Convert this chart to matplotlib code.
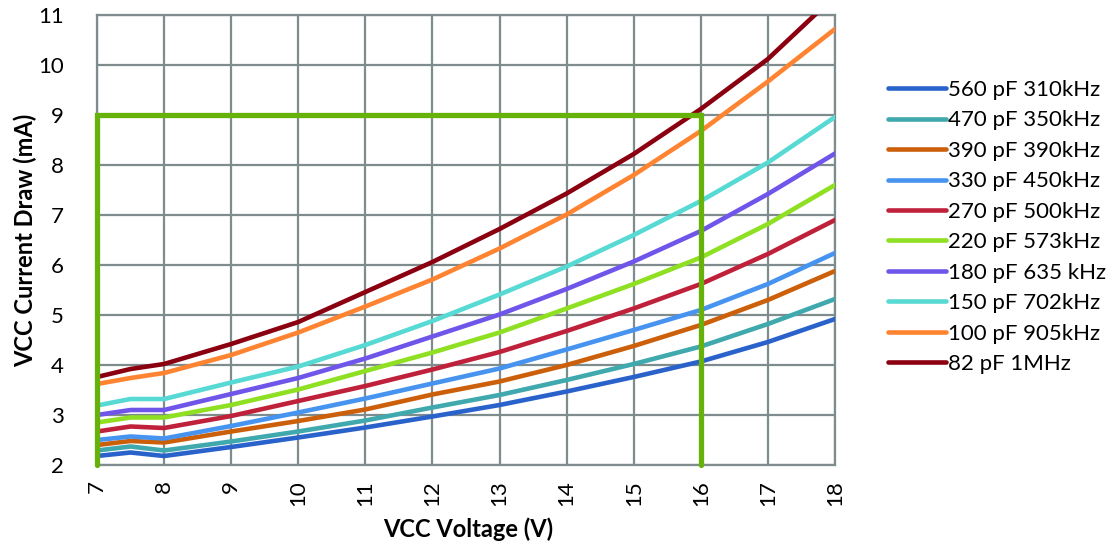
import matplotlib
matplotlib.use("Agg")
import matplotlib.pyplot as plt

voltage = [7, 7.5, 8, 9, 10, 11, 12, 13, 14, 15, 16, 17, 18]

labels = ["560 pF 310kHz", "470 pF 350kHz", "390 pF 390kHz", "330 pF 450kHz",
          "270 pF 500kHz", "220 pF 573kHz", "180 pF 635 kHz", "150 pF 702kHz",
          "100 pF 905kHz", "82 pF 1MHz"]

c560 = [2.18, 2.25, 2.18, 2.36, 2.55, 2.75, 2.97, 3.20, 3.47, 3.76, 4.07, 4.46, 4.92]
c470 = [2.29, 2.37, 2.29, 2.47, 2.67, 2.89, 3.15, 3.40, 3.70, 4.02, 4.37, 4.82, 5.32]
c390 = [2.40, 2.48, 2.45, 2.67, 2.88, 3.11, 3.41, 3.67, 4.00, 4.38, 4.80, 5.30, 5.88]
c330 = [2.50, 2.57, 2.53, 2.78, 3.05, 3.33, 3.63, 3.93, 4.31, 4.70, 5.10, 5.62, 6.24]
c270 = [2.67, 2.77, 2.74, 2.98, 3.28, 3.58, 3.91, 4.26, 4.68, 5.13, 5.62, 6.22, 6.90]
c220 = [2.85, 2.95, 2.95, 3.20, 3.51, 3.88, 4.25, 4.65, 5.13, 5.62, 6.15, 6.82, 7.60]
c180 = [3.00, 3.10, 3.10, 3.42, 3.74, 4.13, 4.57, 5.01, 5.52, 6.07, 6.68, 7.42, 8.23]
c150 = [3.19, 3.32, 3.32, 3.65, 3.97, 4.40, 4.88, 5.41, 5.97, 6.60, 7.28, 8.05, 8.96]
c100 = [3.62, 3.74, 3.84, 4.20, 4.65, 5.17, 5.71, 6.33, 7.01, 7.80, 8.68, 9.67, 10.72]
c82 = [3.76, 3.92, 4.02, 4.42, 4.86, 5.46, 6.06, 6.72, 7.43, 8.22, 9.12, 10.12, 11.38]

series = [c560, c470, c390, c330, c270, c220, c180, c150, c100, c82]
colors = ["#2A62CC", "#3FA9AE", "#CC5F0A", "#4793F0", "#C0213A",
          "#8FE022", "#7055EA", "#57D9D4", "#FF8431", "#8B0010"]

box_x = [7, 7, 16, 16]
box_y = [2, 9, 9, 2]

xticks = list(range(7, 19))
yticks = list(range(2, 12))

plt.rcParams['font.family'] = ['Lato', 'DejaVu Sans']

fig = plt.figure(figsize=(11.14, 5.44), dpi=100)
ax = fig.add_axes([97 / 1114, 1 - 465 / 544, (835 - 97) / 1114, (465 - 15) / 544])

grid_c = "#7F8C8D"
ax.set_xlim(7, 18)
ax.set_ylim(2, 11)
ax.set_xticks(xticks)
ax.set_yticks(yticks)
ax.grid(True, color=grid_c, linewidth=1.6, zorder=0)
ax.set_axisbelow(True)
for s in ax.spines.values():
    s.set_color(grid_c)
    s.set_linewidth(1.6)
ax.tick_params(length=0, labelsize=16)
ax.tick_params(axis='y', pad=24)
ax.tick_params(axis='x', rotation=90, pad=11)

handles = []
for vals, col, lab in zip(series, colors, labels):
    h, = ax.plot(voltage, vals, color=col, linewidth=3.3, label=lab,
                 solid_capstyle='round', solid_joinstyle='round', zorder=3)
    handles.append(h)

ax.plot(box_x, box_y, color="#66B20A", linewidth=3.8, zorder=5,
        solid_capstyle='round', solid_joinstyle='miter', clip_on=False)

ax.set_xlabel("VCC Voltage (V)", fontsize=17, fontweight='bold')
ax.set_ylabel("VCC Current Draw (mA)", fontsize=17, fontweight='bold')
ax.xaxis.set_label_coords((468 - 97) / 738, (465 - 517) / 450)
ax.yaxis.set_label_coords((37 - 97) / 738, 0.5)

fig.legend(handles=handles, labels=labels, loc='center left',
           bbox_to_anchor=(888 / 1114, 1 - 227 / 544), frameon=False,
           fontsize=16, handlelength=2.6, handletextpad=0.1,
           labelspacing=0.47, borderaxespad=0, borderpad=0)

fig.savefig("out.png", dpi=100)
